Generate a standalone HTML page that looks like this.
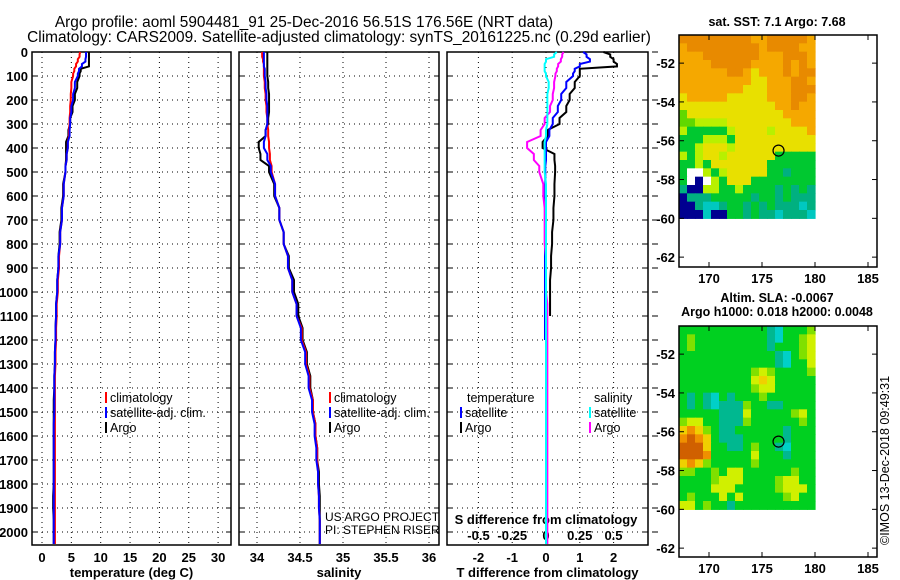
<!DOCTYPE html>
<html><head><meta charset="utf-8">
<style>
html,body{margin:0;padding:0;background:#fff;}
svg{display:block;font-family:"Liberation Sans",sans-serif;}
.tk{font-size:13px;font-weight:bold;fill:#000;}
.ttl{font-size:15.4px;fill:#000;}
.lg{font-size:12.5px;fill:#000;}
</style></head>
<body>
<svg id="fig" width="900" height="580" viewBox="0 0 900 580" xmlns="http://www.w3.org/2000/svg">
<text class="ttl" x="304" y="27" text-anchor="middle">Argo profile: aoml 5904481_91 25-Dec-2016 56.51S 176.56E (NRT data)</text>
<text class="ttl" x="339" y="42" text-anchor="middle">Climatology: CARS2009. Satellite-adjusted climatology: synTS_20161225.nc (0.29d earlier)</text>
<text class="ttl" x="777" y="26" text-anchor="middle" style="font-size:12.5px;font-weight:bold">sat. SST: 7.1 Argo: 7.68</text>
<text class="ttl" x="777" y="302" text-anchor="middle" style="font-size:12.5px;font-weight:bold">Altim. SLA: -0.0067</text>
<text class="ttl" x="777" y="316" text-anchor="middle" style="font-size:12.5px;font-weight:bold">Argo h1000: 0.018 h2000: 0.0048</text>
<text class="ttl" transform="translate(889,545) rotate(-90)" style="font-size:12.5px">©IMOS 13-Dec-2018 09:49:31</text>
<g id="g"></g>
</svg>
<script>
// ---- profile data ----
const depths = [0,20,40,60,80,100,150,200,250,300,350,400,450,500,600,700,800,900,1000,1100,1200,1300,1400,1500,1600,1700,1800,1900,2000,2050];
const tempClim = [6.5,6.4,6.1,5.8,5.5,5.3,5.0,4.9,4.8,4.7,4.6,4.4,4.2,4.0,3.7,3.4,3.1,2.9,2.7,2.5,2.4,2.3,2.2,2.2,2.2,2.2,2.2,2.2,2.2,2.2];
const tempSat = [7.5,7.5,7.4,6.8,6.3,6.1,5.6,5.3,5.0,4.8,4.7,4.4,4.2,4.0,3.7,3.4,3.1,2.8,2.6,2.4,2.3,2.2,2.1,2.1,2.0,2.0,2.0,2.0,2.0,2.0];
const tempArgo = [8.0,8.0,8.0,8.0,6.6,6.4,6.0,5.6,5.2,4.8,4.5,4.1,4.1,4.0,3.6,3.3,3.0,2.8,2.6,2.4,2.3,2.2,2.1,2.0,2.0,2.0,2.0,1.9,2.0,2.0];
const salClim = [34.06,34.06,34.07,34.08,34.08,34.08,34.09,34.10,34.11,34.12,34.13,34.14,34.15,34.17,34.21,34.26,34.31,34.36,34.41,34.46,34.52,34.57,34.61,34.65,34.68,34.70,34.71,34.72,34.73,34.73];
const salSat = [34.08,34.08,34.08,34.08,34.09,34.09,34.10,34.11,34.12,34.12,34.10,34.08,34.12,34.16,34.21,34.26,34.31,34.36,34.41,34.46,34.51,34.56,34.60,34.64,34.67,34.69,34.71,34.72,34.73,34.73];
const salArgo = [34.12,34.12,34.12,34.12,34.12,34.12,34.13,34.14,34.14,34.13,34.10,34.02,34.04,34.14,34.20,34.26,34.31,34.37,34.43,34.48,34.53,34.58,34.62,34.65,34.68,34.70,34.72,34.73,34.73,34.73];
const dTSat = [1.1,1.2,1.3,1.0,0.85,0.8,0.6,0.45,0.35,0.2,0.1,0.0,0.0,-0.02,-0.02,-0.03,-0.03,-0.03,-0.03,-0.03,-0.03,null,null,null,null,null,null,null,null,null];
const dTArgo = [1.7,1.9,2.0,2.1,1.0,1.0,0.85,0.7,0.6,0.4,0.05,-0.1,0.25,0.27,0.25,0.22,0.18,0.15,0.12,0.12,null,null,null,null,null,null,null,null,null,null];
const dSSat = [0.08,0.06,0.0,-0.01,-0.01,0.0,0.02,0.01,0.01,0.01,0.0,-0.01,-0.01,-0.01,0,0,0,0,0,0,0,0,0,0,0,0,0,0,0,0];
const dSArgo = [0.13,0.12,0.11,0.09,0.08,0.07,0.06,0.05,0.03,-0.01,-0.04,-0.14,-0.09,-0.05,-0.02,-0.01,-0.01,0,0,0.01,0.01,0.01,0.01,0.01,0.01,0.01,0.01,0.01,0.01,0.01];
const depthTicks = [0,100,200,300,400,500,600,700,800,900,1000,1100,1200,1300,1400,1500,1600,1700,1800,1900,2000];
const tempTicks = [0,5,10,15,20,25,30];
const salTicks = [34,34.5,35,35.5,36];
const salTickLabels = ["34","34.5","35","35.5","36"];
const dTTicks = [-2,-1,0,1,2];
const dSTicks = [-0.5,-0.25,0,0.25,0.5];
const dSTickLabels = ["-0.5","-0.25","0","0.25","0.5"];
// ---- map data ----
const sstRows = [
"OOOOOOOOOooOOOOOo","oOOOOOOOOOoOOOOoo","oooOOOOOOOoooOOOo","ooooOOOOOooooOoOo",
"ooooooOOoyoooOoOO","oooooooooyyoooOOo","ooooooooyyyoooOOO","yoooooyyyyyoooOOo",
"yyyyyyyyyyyyooOoo","gyyyyyyyyyyyyoooo","ggllllyyyyyyyyooo","lGGGGGlyyyylyyyyo",
"GGGlllGyyyyyyyyyy","GGlyyylyyyyyyyyyy","lGlyylyyyyyyGGGGG","GGlGyyyyyyyGGGGGG",
"GWWlGlyyyyyGGtGGG","GWNWlGyyyGGGGGGGG","tNNllGGlGGGGtGtGt","NtttGGGGGtGGtGttt",
"NNtcctGGtGtGtttct","NNNcNNGGtGttctttc"];
const slaRows = [
"GGGGGGGGGGGtcGGGl","GlGGGGGGGGGtcGGly","GlGGGGGGGGGtGGGly","GGGGGGGGGGGGtcGly",
"GGGGGGGGGGGGtcGGy","GGGGGGGGGlylGGGGl","GGGGGGGGGyYyGGGGG","GGGGGGGGGlyyGGGGG",
"GtGtcGtGGGlGGGGGG","GtGtctttlGGttGGGG","GGGGGtttyGGGGGlyG","lyyGGtttlGGGGGGlG",
"YoYlGttGGGGGGtGGG","oroYGtttGGGGGtGGG","rrrYGGttGlGGtcGGG","rrroGGGGGyGGGtGGG",
"YoYlGGGGGlGGGGGGG","llGGlGyyGGGGGGlGG","GGGGlyyyGGGGlyyGG","GGGGyyyGGGGGlyyyG",
"GlGGGyGyGGGGGlyGG","yyGlGGtGGGGGGGGGG"];
const latTicks = [-52,-54,-56,-58,-60,-62];
const lonTicks = [170,175,180,185];
const argoLon = 176.56, argoLat = -56.51;

const NS="http://www.w3.org/2000/svg";
const G=document.getElementById('g');
function mk(tag,attrs,parent){const e=document.createElementNS(NS,tag);for(const k in attrs)e.setAttribute(k,attrs[k]);(parent||G).appendChild(e);return e;}

const Y0=52, YB=545, PXD=0.24;
const yD = d => Y0 + d*PXD;
const panels = [
 {name:'temperature',x0:32,x1:231,sx:v=>42+5.87*v,label:'temperature (deg C)'},
 {name:'salinity',x0:239,x1:439,sx:v=>257+86*(v-34),label:'salinity'},
 {name:'difference',x0:447,x1:648,sx:v=>546+33.8*v,label:'T difference from climatology'}
];
const sxS = v=>546+135*v;

panels.forEach((p,pi)=>{
  const g=mk('g',{});
  
  
  depthTicks.forEach(d=>{
    const l=mk('line',{x1:p.x0,x2:p.x1,y1:yD(d),y2:yD(d),stroke:'#000','stroke-width':1,'stroke-dasharray':'1,4'},g);
    
    
    const t=mk('line',{x1:p.x0,x2:p.x0+5,y1:yD(d),y2:yD(d),stroke:'#000'},g);
    
    
    const t2=mk('line',{x1:p.x1-5,x2:p.x1,y1:yD(d),y2:yD(d),stroke:'#000'},g);
    
    
  });
  const ticks = pi==0?tempTicks:pi==1?salTicks:dTTicks;
  const labs = pi==0?tempTicks.map(String):pi==1?salTickLabels:dTTicks.map(String);
  ticks.forEach((v,i)=>{
    const x=p.sx(v);
    const l=mk('line',{x1:x,x2:x,y1:Y0,y2:YB,stroke:'#000','stroke-dasharray':'1,4'},g);
    
    
    const t=mk('text',{x:x,y:562,'text-anchor':'middle',class:'tk'},g);
    t.textContent=labs[i];
    
    
  });
  const r=mk('rect',{x:p.x0,y:Y0,width:p.x1-p.x0,height:YB-Y0,fill:'none',stroke:'#000','stroke-width':1.5},g);
  
  
  const xl=mk('text',{x:(p.x0+p.x1)/2,y:577,'text-anchor':'middle',class:'tk'},g);
  xl.textContent=p.label;
  
  
});
depthTicks.forEach(d=>{
  const t=mk('line',{x1:652,x2:658,y1:yD(d),y2:yD(d),stroke:'#000'});
  
  
});
depthTicks.forEach(d=>{
  const t=mk('text',{x:28,y:yD(d)+5,'text-anchor':'end',class:'tk'});
  t.textContent=String(d);
  
  
});
const sdt=mk('text',{x:546,y:524,'text-anchor':'middle',class:'tk'});
sdt.textContent='S difference from climatology';


dSTicks.forEach((v,i)=>{
  const t=mk('text',{x:sxS(v),y:540,'text-anchor':'middle',class:'tk'});
  t.textContent=dSTickLabels[i];
  
  
});

function profile(vals,sx,color,name,w){
  const pts=[];
  for(let i=0;i<depths.length;i++){
    if(vals[i]===null||vals[i]===undefined) break;
    const x=sx(vals[i]);
    if(i>0) pts.push(x+','+yD(depths[i-1]+ (depths[i]-depths[i-1])*0.5));
    pts.push(x+','+yD(depths[i]));
  }
  const pl=mk('polyline',{points:pts.join(' '),fill:'none',stroke:color,'stroke-width':w||2});
  
  
}
profile(tempArgo,panels[0].sx,'#000','temp-argo-line');
profile(tempClim,panels[0].sx,'#f00','temp-climatology-line');
profile(tempSat,panels[0].sx,'#00f','temp-satellite-line');
profile(salArgo,panels[1].sx,'#000','sal-argo-line');
profile(salClim,panels[1].sx,'#f00','sal-climatology-line');
profile(salSat,panels[1].sx,'#00f','sal-satellite-line');
profile(dTArgo,panels[2].sx,'#000','tdiff-argo-line');
profile(dTSat,panels[2].sx,'#00f','tdiff-satellite-line');
profile(dSArgo,sxS,'#f0f','sdiff-argo-line');
profile(dSSat,sxS,'#0ff','sdiff-satellite-line');

function leg(x,y,color,text,name){
  const m=mk('line',{x1:x,x2:x,y1:y-10,y2:y+1,stroke:color,'stroke-width':2});
  
  
  const t=mk('text',{x:x+4,y:y,class:'lg'});
  t.textContent=text;
  
  
}
leg(106,402,'#f00','climatology','legend-climatology');
leg(106,417,'#00f','satellite-adj. clim.','legend-satellite');
leg(106,432,'#000','Argo','legend-argo');
leg(330,402,'#f00','climatology','legend-sal-climatology');
leg(330,417,'#00f','satellite-adj. clim.','legend-sal-satellite');
leg(330,432,'#000','Argo','legend-sal-argo');
const lt=mk('text',{x:467,y:402,class:'lg'});lt.textContent='temperature';


const ls=mk('text',{x:594,y:402,class:'lg'});ls.textContent='salinity';


leg(461,417,'#00f','satellite','legend-tdiff-satellite');
leg(461,432,'#000','Argo','legend-tdiff-argo');
leg(590,417,'#0ff','satellite','legend-sdiff-satellite');
leg(590,432,'#f0f','Argo','legend-sdiff-argo');
const c1=mk('text',{x:325,y:521,class:'lg',style:'font-size:12px'});c1.textContent='US ARGO PROJECT';


const c2=mk('text',{x:325,y:534,class:'lg',style:'font-size:12px'});c2.textContent='PI: STEPHEN RISER';



const sstCol={O:'#e88a00',o:'#f5a800',y:'#e8e000',l:'#b8f000',g:'#60d800',G:'#00c830',t:'#00b080',c:'#00c8c0',N:'#000090',W:'#ffffff'};
const slaCol={G:'#00d020',t:'#00b890',c:'#00d0c8',l:'#80e000',y:'#d0f000',Y:'#f0d000',o:'#f09000',r:'#d06000'};
function map(rows,cols,top,bot,lat0,name){
  const x0=679,x1=877,pxLon=10.6;
  const lx=v=>709+(v-170)*pxLon;
  const latTop=-50.55, pxLat=19.4;
  const ly=v=>top+(latTop-v)*pxLat;
  const g=mk('g',{});
  
  
  const dx0=x0, dx1=lx(180), dy0=top, dy1=ly(-60);
  const cw=(dx1-dx0)/rows[0].length, ch=(dy1-dy0)/rows.length;
  rows.forEach((row,r)=>{
    for(let c=0;c<row.length;c++){
      const rc=mk('rect',{x:dx0+c*cw,y:dy0+r*ch,width:cw+0.6,height:ch+0.6,fill:cols[row[c]]},g);
      
      
    }
  });
  const ci=mk('circle',{cx:lx(argoLon),cy:ly(argoLat),r:5.5,fill:'none',stroke:'#000','stroke-width':1.2},g);
  
  
  const fr=mk('rect',{x:x0,y:top,width:x1-x0,height:bot-top,fill:'none',stroke:'#000','stroke-width':1.5},g);
  
  
  latTicks.forEach(v=>{
    const y=ly(v);
    const t=mk('line',{x1:x0,x2:x0+5,y1:y,y2:y,stroke:'#000'},g);
    
    
    const t2=mk('line',{x1:x1-5,x2:x1,y1:y,y2:y,stroke:'#000'},g);
    
    
    const tl=mk('text',{x:x0-4,y:y+5,'text-anchor':'end',class:'tk'},g);
    tl.textContent=String(v);
    
    
  });
  lonTicks.forEach(v=>{
    const x=lx(v);
    const t=mk('line',{x1:x,x2:x,y1:top,y2:top+5,stroke:'#000'},g);
    
    
    const t2=mk('line',{x1:x,x2:x,y1:bot-5,y2:bot,stroke:'#000'},g);
    
    
    const tl=mk('text',{x:x,y:bot+16,'text-anchor':'middle',class:'tk'},g);
    tl.textContent=String(v);
    
    
  });
}
map(sstRows,sstCol,35,267,-50.55,'sst-map');
map(slaRows,slaCol,326,557,-50.55,'sla-map');
</script>
</body></html>
